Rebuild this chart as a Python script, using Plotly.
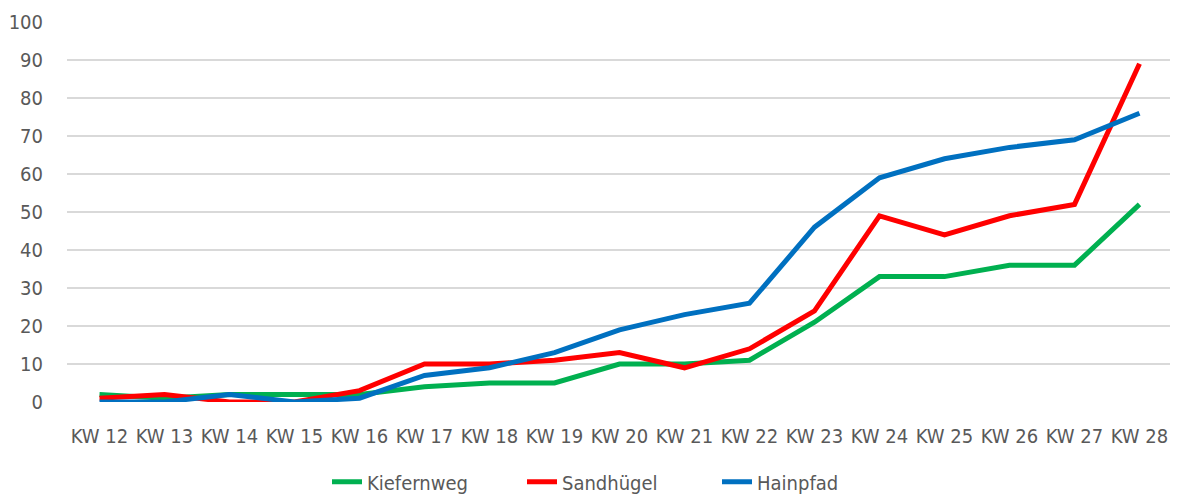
import plotly.graph_objects as go

weeks = ["KW 12", "KW 13", "KW 14", "KW 15", "KW 16", "KW 17", "KW 18", "KW 19", "KW 20",
         "KW 21", "KW 22", "KW 23", "KW 24", "KW 25", "KW 26", "KW 27", "KW 28"]
kiefernweg = [2, 1, 2, 2, 2, 4, 5, 5, 10, 10, 11, 21, 33, 33, 36, 36, 52]
sandhuegel = [1, 2, 0, 0, 3, 10, 10, 11, 13, 9, 14, 24, 49, 44, 49, 52, 89]
hainpfad = [0, 0, 2, 0, 1, 7, 9, 13, 19, 23, 26, 46, 59, 64, 67, 69, 76]

series = [("Kiefernweg", kiefernweg, "#00B050"),
          ("Sandhügel", sandhuegel, "#FF0000"),
          ("Hainpfad", hainpfad, "#0070C0")]

FONT = "Liberation Sans Narrow, DejaVu Sans Condensed, Roboto Condensed, Arial Narrow, sans-serif"

fig = go.Figure()
for name, vals, color in series:
    fig.add_trace(go.Scatter(x=weeks, y=vals, name=name, mode="lines",
                             line=dict(color=color, width=5)))

fig.update_layout(
    width=1170, height=489,
    margin=dict(l=59, r=6, t=14, b=95, autoexpand=False),
    paper_bgcolor="white", plot_bgcolor="white",
    font=dict(family=FONT, size=20, color="#595959"),
    showlegend=True,
    legend=dict(orientation="h", x=0.5, xanchor="center", y=-0.21, yanchor="middle",
                font=dict(size=20, color="#595959"), traceorder="normal",
                entrywidth=150, entrywidthmode="pixels"),
    xaxis=dict(type="category", range=[-0.5, 16.5], showgrid=False, zeroline=False,
               showline=False, ticks="", tickangle=0, tickfont=dict(size=20),
               ticklabelstandoff=20, automargin=False),
    yaxis=dict(range=[0, 100], dtick=10, showgrid=True, gridcolor="#D9D9D9", gridwidth=1.5,
               zeroline=False, showline=False, ticks="", tickfont=dict(size=20),
               ticklabelstandoff=23, automargin=False),
)

fig.write_html("out.html")
